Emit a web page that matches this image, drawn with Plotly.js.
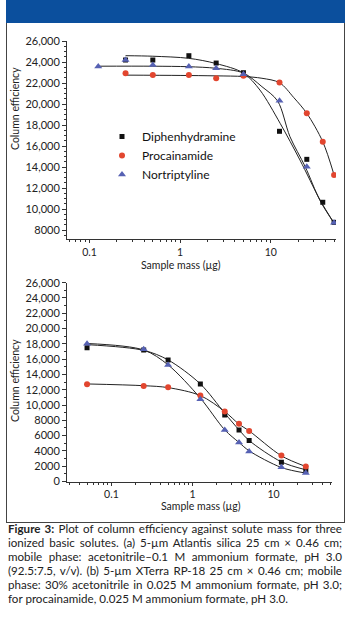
<!DOCTYPE html>
<html><head><meta charset="utf-8">
<script src="https://cdn.plot.ly/plotly-3.0.1.min.js"></script>
<style>
html,body{margin:0;padding:0;background:#fff;width:350px;height:617px;overflow:hidden;}
#frame{position:absolute;left:6px;top:0;width:337px;height:522px;border:1px solid #444;border-top:none;}
#band{position:absolute;left:6px;top:0;width:339px;height:23px;background:#0b4f9d;}
#chart{position:absolute;left:0;top:0;width:350px;height:525px;}
#caption{position:absolute;left:8px;top:522px;width:334px;font-family:Lato,sans-serif;font-size:11.6px;line-height:14px;color:#222;}
#caption div{text-align:justify;text-align-last:justify;height:auto;}
#caption div.last{text-align-last:left;}
</style></head>
<body>
<div id="frame"></div>
<div id="band"></div>
<div id="chart"></div>
<div id="caption">
<div><b>Figure 3:</b> Plot of column efficiency against solute mass for three</div>
<div>ionized basic solutes. (a) 5-µm Atlantis silica 25 cm × 0.46 cm;</div>
<div>mobile phase: acetonitrile–0.1 M ammonium formate, pH 3.0</div>
<div>(92.5:7.5, v/v). (b) 5-µm XTerra RP-18 25 cm × 0.46 cm; mobile</div>
<div>phase: 30% acetonitrile in 0.025 M ammonium formate, pH 3.0;</div>
<div class="last">for procainamide, 0.025 M ammonium formate, pH 3.0.</div>
</div>
<script>
// ---- data: panel (a) ----
var seriesNames = ['Diphenhydramine', 'Procainamide', 'Nortriptyline'];
var aDiphX = [0.25, 0.5, 1.25, 2.5, 5, 12.5, 25, 37.5, 50];
var aDiphY = [24190, 24190, 24600, 23900, 22980, 17400, 14730, 10640, 8730];
var aProcX = [0.25, 0.5, 1.25, 2.5, 5, 12.5, 25, 37.5, 50];
var aProcY = [22920, 22760, 22760, 22450, 22700, 22050, 19110, 16410, 13240];
var aNortX = [0.125, 0.25, 0.5, 1.25, 2.5, 5, 12.5, 25, 50];
var aNortY = [23560, 24190, 23710, 23560, 23400, 22830, 20300, 14030, 8700];
// fitted curves
var aDiphFitX = [0.25, 0.5, 1.25, 2.5, 5, 7.6, 12.7, 21, 35, 50];
var aDiphFitY = [24600, 24550, 24350, 23850, 22950, 21330, 18160, 14670, 10860, 8650];
var aProcFitX = [0.25, 1, 2.5, 5, 8, 12.5, 18, 25, 37.5, 50];
var aProcFitY = [22750, 22720, 22680, 22620, 22450, 22030, 20600, 19110, 16410, 13240];
var aNortFitX = [0.125, 0.5, 1.25, 2.5, 5, 8, 11.9, 16.3, 24, 35, 50];
var aNortFitY = [23600, 23600, 23550, 23400, 22950, 21650, 20290, 16890, 14030, 10800, 8650];
// ---- data: panel (b) ----
var bX = [0.05, 0.25, 0.5, 1.25, 2.5, 3.75, 5, 12.5, 25];
var bDiphY = [17500, 17200, 15900, 12760, 8710, 6750, 5360, 2530, 1440];
var bProcY = [12720, 12500, 12330, 11240, 9150, 7540, 6620, 3400, 1960];
var bNortY = [18000, 17300, 15250, 10770, 6750, 5100, 3920, 1880, 1100];
var bFitX = [0.05, 0.25, 0.5, 1.25, 2.5, 3.75, 5, 12.5, 25];
var bDiphFitY = [17900, 17150, 15900, 12760, 8930, 6750, 5360, 2570, 1530];
var bProcFitY = [12760, 12530, 12280, 11240, 9150, 7500, 6620, 3360, 1960];
var bNortFitY = [18050, 17200, 15250, 10900, 6750, 5100, 4010, 1830, 1100];
// ---- ticks ----
var xTickVals = [0.1, 1, 10];
var xTickText = ['0.1', '1', '10'];
var aYTickVals = [8000, 10000, 12000, 14000, 16000, 18000, 20000, 22000, 24000, 26000];
var aYTickText = ['8000', '10,000', '12,000', '14,000', '16,000', '18,000', '20,000', '22,000', '24,000', '26,000'];
var bYTickVals = [0, 2000, 4000, 6000, 8000, 10000, 12000, 14000, 16000, 18000, 20000, 22000, 24000, 26000];
var bYTickText = ['0', '2000', '4000', '6000', '8000', '10,000', '12,000', '14,000', '16,000', '18,000', '20,000', '22,000', '24,000', '26,000'];

var FONT = 'Lato, "Open Sans", sans-serif';
var colors = ['#111111', '#e2462f', '#5661b3'];
var symbols = ['square', 'circle', 'triangle-up'];
var sizes = [5, 6, 7];

function pts(x, y, i, xa, ya, legend) {
  return {x: x, y: y, type: 'scatter', mode: 'markers', name: seriesNames[i],
    xaxis: xa, yaxis: ya, showlegend: legend, legendgroup: seriesNames[i],
    marker: {symbol: symbols[i], size: sizes[i], color: colors[i], line: {width: 0}}};
}
function fit(x, y, xa, ya) {
  return {x: x, y: y, type: 'scatter', mode: 'lines', xaxis: xa, yaxis: ya, showlegend: false,
    hoverinfo: 'skip', line: {color: '#222', width: 1, shape: 'spline', smoothing: 0.9}};
}
var data = [
  fit(aDiphFitX, aDiphFitY, 'x', 'y'), fit(aProcFitX, aProcFitY, 'x', 'y'), fit(aNortFitX, aNortFitY, 'x', 'y'),
  fit(bFitX, bDiphFitY, 'x2', 'y2'), fit(bFitX, bProcFitY, 'x2', 'y2'), fit(bFitX, bNortFitY, 'x2', 'y2'),
  pts(aDiphX, aDiphY, 0, 'x', 'y', true), pts(aProcX, aProcY, 1, 'x', 'y', true), pts(aNortX, aNortY, 2, 'x', 'y', true),
  pts(bX, bDiphY, 0, 'x2', 'y2', false), pts(bX, bProcY, 1, 'x2', 'y2', false), pts(bX, bNortY, 2, 'x2', 'y2', false)
];
var H = 525, W = 350;
function xax(anchor, x0, x1, lo, hi) {
  return {type: 'log', anchor: anchor, domain: [x0 / W, x1 / W], range: [Math.log10(lo), Math.log10(hi)],
    showline: true, linecolor: '#333', linewidth: 1, ticks: 'outside', ticklen: 3, tickcolor: '#333',
    tickmode: 'array', tickvals: xTickVals, ticktext: xTickText, showgrid: false, zeroline: false,
    tickfont: {family: FONT, size: 10.5, color: '#222'},
    minor: {ticks: 'outside', ticklen: 2, tickcolor: '#333', dtick: 'D1', showgrid: false}};
}
function yax(anchor, top, bot, lo, hi, tv, tt, minorStep) {
  return {anchor: anchor, domain: [(H - bot) / H, (H - top) / H], range: [lo, hi],
    showline: true, linecolor: '#333', linewidth: 1, ticks: 'outside', ticklen: 4, tickcolor: '#333',
    tickmode: 'array', tickvals: tv, ticktext: tt, showgrid: false, zeroline: false,
    tickfont: {family: FONT, size: 11, color: '#222'},
    minor: {ticks: 'outside', ticklen: 2, tickcolor: '#333', dtick: minorStep, tick0: 0, showgrid: false}};
}
function ann(text, px, py, angle) {
  return {text: text, xref: 'paper', yref: 'paper', x: px / W, y: 1 - py / H, showarrow: false,
    textangle: angle, font: {family: FONT, size: 10.5, color: '#222'}, xanchor: 'center', yanchor: 'middle'};
}
var layout = {
  width: W, height: H, margin: {l: 0, r: 0, t: 0, b: 0},
  paper_bgcolor: 'rgba(0,0,0,0)', plot_bgcolor: 'rgba(0,0,0,0)',
  font: {family: FONT, size: 11, color: '#222'},
  showlegend: true,
  legend: {x: 102 / W, xanchor: 'left', y: 1 - 122 / H, yanchor: 'top', bgcolor: 'rgba(0,0,0,0)',
    font: {family: FONT, size: 12, color: '#111'}, itemwidth: 30, tracegroupgap: 0},
  xaxis: xax('y', 67, 336, 0.0565, 52.5),
  yaxis: yax('x', 41, 239, 7143, 26000, aYTickVals, aYTickText, 500),
  xaxis2: xax('y2', 67, 332, 0.0283, 52.6),
  yaxis2: yax('x2', 282.7, 481.5, 0, 26000, bYTickVals, bYTickText, 1000),
  annotations: [
    ann('Column efficiency', 15, 109, -90),
    ann('Column efficiency', 15, 381, -90),
    ann('Sample mass (µg)', 181, 265, 0),
    ann('Sample mass (µg)', 201, 506, 0)
  ]
};
Plotly.newPlot('chart', data, layout, {staticPlot: true, displayModeBar: false});
// keep each caption line on one line
Array.prototype.forEach.call(document.querySelectorAll('#caption div'), function (d) {
  var fs = 11.6;
  while (d.offsetHeight > 15 && fs > 9) { fs -= 0.1; d.style.fontSize = fs + 'px'; }
});
</script>
</body></html>
